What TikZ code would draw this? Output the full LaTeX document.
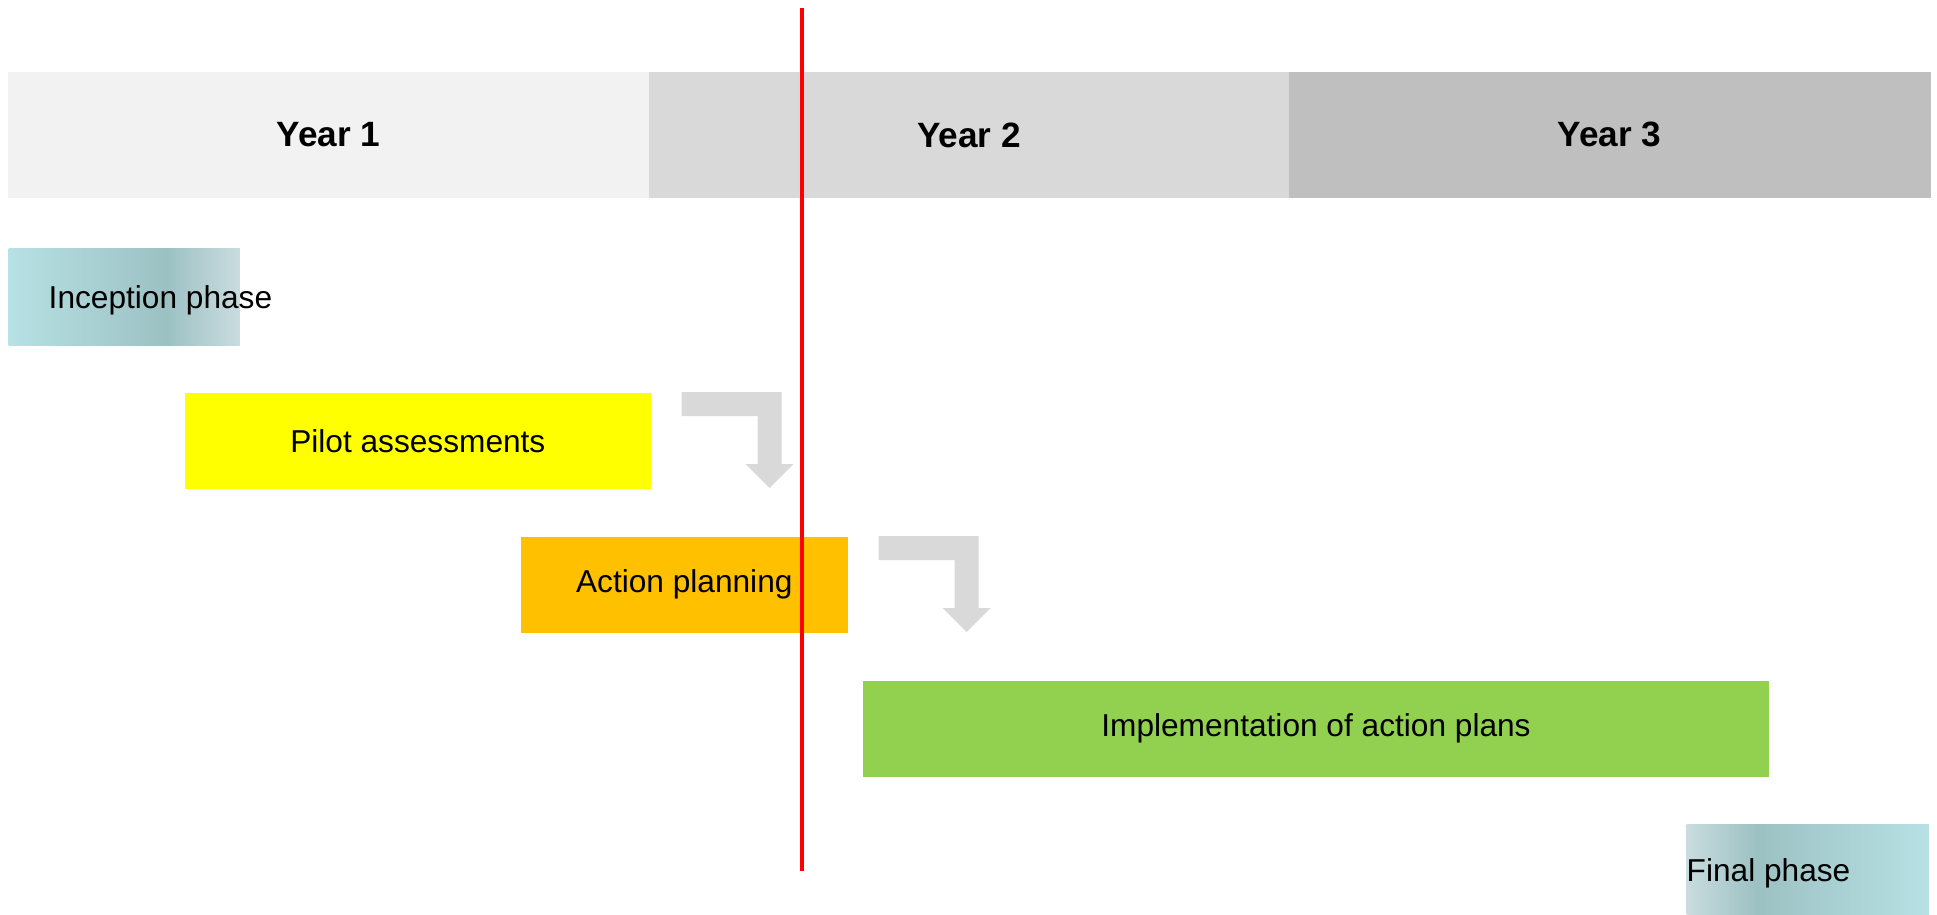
\documentclass[tikz,border=0pt]{standalone}
\usepackage{fontspec}
\setmainfont{Liberation Sans}
\usetikzlibrary{calc,positioning}
\definecolor{yearone}{HTML}{F2F2F2}
\definecolor{yeartwo}{HTML}{D9D9D9}
\definecolor{yearthree}{HTML}{BFBFBF}
\definecolor{arrowgray}{HTML}{D9D9D9}
\definecolor{pilotyellow}{HTML}{FFFF00}
\definecolor{actionorange}{HTML}{FFC000}
\definecolor{implgreen}{HTML}{92D050}
\definecolor{teallight}{HTML}{B7E1E4}
\definecolor{tealdark}{HTML}{9CC1C3}
\definecolor{tealgray}{HTML}{C9DCDF}
\pgfdeclarehorizontalshading{inceptionshade}{100bp}{color(0bp)=(teallight); color(25bp)=(teallight); color(59bp)=(tealdark); color(75bp)=(tealgray); color(100bp)=(tealgray)}
\pgfdeclarehorizontalshading{finalshade}{100bp}{color(0bp)=(tealgray); color(25bp)=(tealgray); color(39.5bp)=(tealdark); color(75bp)=(teallight); color(100bp)=(teallight)}
% bent grey arrow to the right of a bar
\newcommand\bentarrow[1]{\fill[arrowgray] ($(#1.north east)+(30,0)$) -- ++(100,0) -- ++(0,72) -- ++(12,0) -- ++(-24,24) -- ++(-24,-24) -- ++(12,0) -- ++(0,-48) -- ++(-76,0) -- cycle;}
\begin{document}
\begin{tikzpicture}[x=0.01cm,y=-0.01cm,
    bar/.style={anchor=north west,inner sep=0pt,minimum height=0.96cm,font=\fontsize{9}{11}\selectfont},
    yearbar/.style={anchor=north west,inner sep=0pt,minimum height=1.25cm,minimum width=6.4cm,fill=#1,draw=#1,line width=0.2pt,font=\fontsize{10}{12}\selectfont\bfseries}]
    \useasboundingbox (0,0) rectangle (1937,914);
    % years
    \node[yearbar=yearone] (year1) at (8,72) {Year 1};
    \node[yearbar=yeartwo,minimum width=6.39cm] (year2) at (year1.north east) {Year 2};
    \node[yearbar=yearthree] (year3) at (year2.north east) {Year 3};
    % phases
    \node[bar,shade,shading=inceptionshade,minimum width=2.31cm,minimum height=0.97cm] (inception) at (8,248) {};
    \node[anchor=base west,inner sep=0pt,font=\fontsize{9}{11}\selectfont] (inceptionlabel) at ($(inception.west)+(40,11)$) {Inception phase};
    \node[bar,fill=pilotyellow,minimum width=4.66cm] (pilot) at (184,392) {Pilot assessments};
    \node[bar,fill=actionorange,minimum width=3.27cm] (action) at (520,536) {Action planning};
    \node[bar,fill=implgreen,minimum width=9.06cm] (impl) at (862,680) {Implementation of action plans};
    \node[bar,shade,shading=finalshade,minimum width=2.42cm,minimum height=0.9cm] (final) at (1686,824) {};
    \node[anchor=base west,inner sep=0pt,font=\fontsize{9}{11}\selectfont] (finallabel) at ($(final.west)+(0,12)$) {Final phase};
    % arrows
    \bentarrow{pilot}
    \bentarrow{action}
    % today line
    \coordinate (nowtop) at (802,8);
    \coordinate (nowbottom) at (802,871);
    \draw[red,line width=0.04cm] (nowtop) -- (nowbottom);
\end{tikzpicture}
\end{document}
